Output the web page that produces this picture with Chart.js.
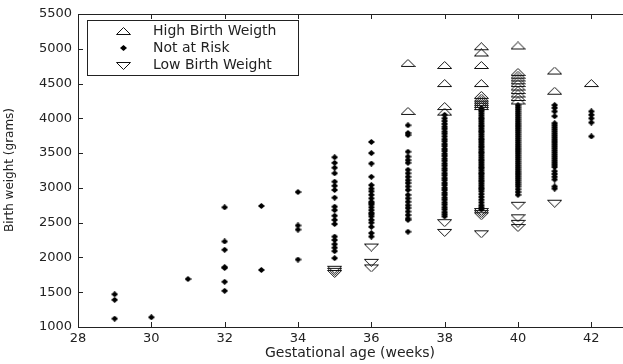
<!DOCTYPE html>
<html>
<head>
<meta charset="utf-8">
<script src="https://cdn.jsdelivr.net/npm/chart.js@4.4.1/dist/chart.umd.min.js"></script>
<style>
  html, body { margin: 0; padding: 0; overflow: hidden; background: #fff; }
  canvas { display: block; }
</style>
</head>
<body>
<canvas id="grafico" width="635" height="364"></canvas>
<script>
// semanas de gestação (uma coluna por semana)
const weeks = [29, 30, 31, 32, 33, 34, 35, 36, 37, 38, 39, 40, 41, 42];

// pesos, uma lista por semana
const notAtRisk = [
  [1470, 1390, 1120],
  [1140],
  [1690],
  [2720, 2230, 2110, 1860, 1850, 1650, 1520],
  [2740, 1820],
  [2940, 2460, 2400, 1970],
  [3440, 3360, 3290, 3210, 3090, 3030, 2970, 2860, 2730, 2680, 2600, 2540, 2480, 2300, 2250, 2190, 2140, 2090, 1990],
  [3660, 3500, 3350, 3160, 3040, 2990, 2950, 2900, 2850, 2800, 2780, 2760, 2720, 2680, 2640, 2620, 2590, 2540, 2500, 2440, 2350, 2300],
  [3900, 3790, 3760, 3520, 3450, 3400, 3360, 3260, 3210, 3160, 3110, 3070, 3020, 2970, 2900, 2850, 2800, 2750, 2710, 2660, 2610, 2560, 2540, 2370],
  [4050, 4000, 3960, 3920, 3880, 3850, 3810, 3780, 3740, 3700, 3670, 3630, 3600, 3560, 3530, 3490, 3460, 3420, 3390, 3350, 3320,
   3280, 3250, 3210, 3180, 3140, 3110, 3070, 3040, 3000, 2970, 2930, 2900, 2860, 2830, 2790, 2760, 2720, 2690, 2650, 2620, 2590],
  [4150, 4120, 4100, 4070, 4040, 4010, 3990, 3960, 3930, 3900, 3880, 3850, 3820, 3800, 3770, 3740, 3710, 3690, 3660, 3630, 3600,
   3580, 3550, 3520, 3500, 3470, 3440, 3410, 3390, 3360, 3330, 3300, 3280, 3250, 3220, 3200, 3170, 3140, 3110, 3090, 3060, 3030,
   3000, 2980, 2950, 2910, 2870, 2830, 2790, 2750, 2720, 2690],
  [4190, 4160, 4130, 4100, 4070, 4040, 4010, 3980, 3950, 3920, 3890, 3860, 3830, 3800, 3770, 3740, 3710, 3680, 3650, 3620, 3590,
   3560, 3530, 3500, 3470, 3440, 3410, 3380, 3350, 3320, 3290, 3260, 3230, 3200, 3170, 3140, 3110, 3080, 3050, 3020, 2980, 2940, 2900],
  [4190, 4150, 4100, 4030, 3930, 3900, 3870, 3840, 3810, 3780, 3750, 3720, 3690, 3660, 3630, 3600, 3570, 3540, 3510, 3480, 3450,
   3420, 3390, 3360, 3330, 3300, 3240, 3200, 3160, 3120, 3020, 2990],
  [4100, 4050, 4000, 3940, 3740]
];

const highBirthWeight = [
  [], [], [], [], [], [], [], [],
  [4790, 4100],
  [4760, 4500, 4170, 4090],
  [5030, 4940, 4760, 4500, 4330, 4290, 4260, 4230, 4200, 4170],
  [5040, 4660, 4620, 4580, 4540, 4500, 4450, 4400, 4350, 4300, 4250],
  [4680, 4390],
  [4500]
];

const lowBirthWeight = [
  [], [], [], [], [], [],
  [1830, 1800, 1770],
  [2150, 1930, 1850],
  [],
  [2500, 2360],
  [2660, 2630, 2600, 2340],
  [2750, 2570, 2490, 2430],
  [2780],
  []
];

const xTicks = [28, 30, 32, 34, 36, 38, 40, 42];
const yTicks = [1000, 1500, 2000, 2500, 3000, 3500, 4000, 4500, 5000, 5500];

function toPoints(groups) {
  const pts = [];
  groups.forEach((g, i) => g.forEach(v => pts.push({ x: weeks[i], y: v })));
  return pts;
}

// marcadores desenhados num canvas pequeno (triângulos achatados como no original)
function marker(w, h, draw) {
  const c = document.createElement('canvas');
  c.width = w;
  c.height = h;
  draw(c.getContext('2d'));
  return c;
}

const upTri = marker(15, 9, ctx => {
  ctx.strokeStyle = '#111';
  ctx.lineWidth = 1;
  ctx.beginPath();
  ctx.moveTo(0.5, 7.5);
  ctx.lineTo(7.5, 0.5);
  ctx.lineTo(14.5, 7.5);
  ctx.closePath();
  ctx.stroke();
});

const downTri = marker(15, 9, ctx => {
  ctx.strokeStyle = '#111';
  ctx.lineWidth = 1;
  ctx.beginPath();
  ctx.moveTo(0.5, 1.5);
  ctx.lineTo(14.5, 1.5);
  ctx.lineTo(7.5, 8.5);
  ctx.closePath();
  ctx.stroke();
});

const dot = marker(7, 6, ctx => {
  ctx.fillStyle = '#000';
  ctx.beginPath();
  ctx.moveTo(0, 3);
  ctx.lineTo(3.5, 0);
  ctx.lineTo(7, 3);
  ctx.lineTo(3.5, 6);
  ctx.closePath();
  ctx.fill();
  ctx.fillRect(2, 1.5, 3, 3);
});

// moldura, marcas internas, títulos e legenda
const moldura = {
  id: 'moldura',
  afterDraw(chart) {
    const { ctx, chartArea: a, scales: { x, y } } = chart;
    ctx.save();
    ctx.strokeStyle = '#222';
    ctx.lineWidth = 1;
    ctx.strokeRect(a.left + 0.5, a.top + 0.5, a.right - a.left, a.bottom - a.top);
    ctx.beginPath();
    xTicks.forEach(v => {
      const px = Math.round(x.getPixelForValue(v)) + 0.5;
      ctx.moveTo(px, a.bottom);
      ctx.lineTo(px, a.bottom - 5);
      ctx.moveTo(px, a.top);
      ctx.lineTo(px, a.top + 5);
    });
    yTicks.forEach(v => {
      const py = Math.round(y.getPixelForValue(v)) + 0.5;
      ctx.moveTo(a.left, py);
      ctx.lineTo(a.left + 5, py);
      ctx.moveTo(a.right, py);
      ctx.lineTo(a.right - 5, py);
    });
    ctx.stroke();

    ctx.fillStyle = '#222';
    ctx.font = '14px "DejaVu Sans"';
    ctx.textAlign = 'center';
    ctx.textBaseline = 'middle';
    ctx.fillText('Gestational age (weeks)', 350, 353);

    ctx.save();
    ctx.translate(10, 170);
    ctx.rotate(-Math.PI / 2);
    ctx.font = '12px "DejaVu Sans"';
    ctx.fillText('Birth weight (grams)', 0, 0);
    ctx.restore();

    // legenda
    ctx.fillStyle = '#fff';
    ctx.fillRect(87.5, 20.5, 211, 55);
    ctx.strokeRect(87.5, 20.5, 211, 55);
    const rows = [
      ['High Birth Weigth', upTri],
      ['Not at Risk', dot],
      ['Low Birth Weight', downTri]
    ];
    ctx.font = '14px "DejaVu Sans"';
    ctx.textAlign = 'left';
    ctx.fillStyle = '#222';
    rows.forEach(([txt, img], i) => {
      const cy = 31 + i * 17;
      ctx.drawImage(img, Math.round(123 - img.width / 2), Math.round(cy - img.height / 2));
      ctx.fillText(txt, 153, cy);
    });
    ctx.restore();
  }
};

const grafico = document.getElementById('grafico').getContext('2d');

new Chart(grafico, {
  type: 'scatter',
  data: {
    datasets: [{
      label: 'High Birth Weigth',
      data: toPoints(highBirthWeight),
      pointStyle: upTri,
      pointRadius: 6
    },
    {
      label: 'Not at Risk',
      data: toPoints(notAtRisk),
      pointStyle: dot,
      pointRadius: 3
    },
    {
      label: 'Low Birth Weight',
      data: toPoints(lowBirthWeight),
      pointStyle: downTri,
      pointRadius: 6
    }]
  },
  options: {
    responsive: false,
    animation: false,
    layout: {
      padding: { left: 0, top: 14, right: 6, bottom: 0 }
    },
    plugins: {
      legend: { display: false },
      tooltip: { enabled: false }
    },
    scales: {
      x: {
        type: 'linear',
        min: 28,
        max: 43,
        afterBuildTicks: s => { s.ticks = xTicks.map(v => ({ value: v })); },
        afterFit: s => { s.height = 37; },
        grid: { display: false, drawTicks: false },
        border: { display: false },
        ticks: {
          padding: 4,
          color: '#222',
          font: { family: 'DejaVu Sans', size: 13 },
          callback: v => String(v)
        }
      },
      y: {
        min: 1000,
        max: 5500,
        afterBuildTicks: s => { s.ticks = yTicks.map(v => ({ value: v })); },
        afterFit: s => { s.width = 78; },
        grid: { display: false, drawTicks: false },
        border: { display: false },
        ticks: {
          padding: 6,
          color: '#222',
          font: { family: 'DejaVu Sans', size: 13 },
          callback: v => String(v)
        }
      }
    }
  },
  plugins: [moldura]
});
</script>
</body>
</html>
